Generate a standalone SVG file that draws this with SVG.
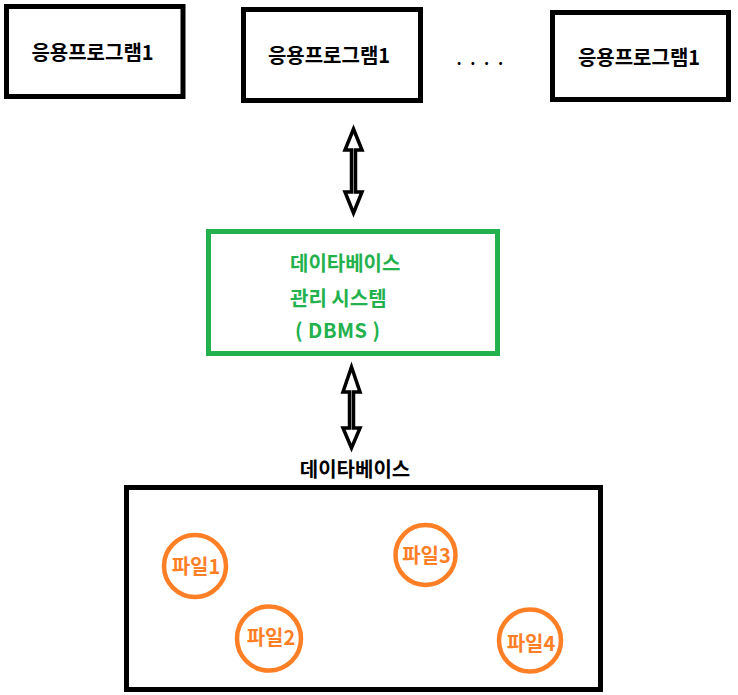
<svg xmlns="http://www.w3.org/2000/svg" width="738" height="695" viewBox="0 0 738 695">
<style>
.box{fill:#fff;stroke:#000;stroke-width:5}
.t{font-family:"Noto Sans CJK KR","Noto Sans",sans-serif;font-weight:bold;font-size:20px}
.bk{fill:#000}
.gr{fill:#22b14c}
.or{fill:#ff7f27}
.file{fill:#fff;stroke:#ff7f27;stroke-width:4.5}
.arrow{fill:#fff;stroke:#000;stroke-width:3.5;stroke-linejoin:miter}
</style>
<rect width="738" height="695" fill="#fff"/>
<g id="app1">
<rect class="box" x="6.5" y="6.5" width="176.5" height="90"/>
<text class="t bk" x="92.5" y="60" text-anchor="middle">응용프로그램1</text>
</g>
<g id="app2">
<rect class="box" x="243.5" y="9.5" width="177" height="91"/>
<text class="t bk" x="329" y="63" text-anchor="middle">응용프로그램1</text>
</g>
<g id="dots">
<text class="t bk" x="481" y="65" text-anchor="middle" style="font-size:16px;letter-spacing:2.5px">. . . .</text>
</g>
<g id="app3">
<rect class="box" x="552.5" y="12.5" width="176" height="87"/>
<text class="t bk" x="639" y="65" text-anchor="middle">응용프로그램1</text>
</g>
<g id="dbms">
<rect x="208.5" y="231.5" width="289" height="122" fill="#fff" stroke="#22b14c" stroke-width="5"/>
<text class="t gr" x="290" y="271">데이타베이스</text>
<text class="t gr" x="290" y="306">관리 시스템</text>
<text class="t gr" x="295" y="338" style="letter-spacing:0.5px">( DBMS )</text>
</g>
<g id="db">
<text class="t bk" x="355" y="477" text-anchor="middle">데이타베이스</text>
<rect class="box" x="126.5" y="487.5" width="474" height="202"/>
<g id="file1">
<circle class="file" cx="195" cy="566" r="31"/>
<text class="t or" x="196" y="574" text-anchor="middle">파일1</text>
</g>
<g id="file2">
<circle class="file" cx="269" cy="638.5" r="32"/>
<text class="t or" x="271" y="645" text-anchor="middle">파일2</text>
</g>
<g id="file3">
<circle class="file" cx="425.5" cy="555" r="30"/>
<text class="t or" x="426.5" y="563" text-anchor="middle">파일3</text>
</g>
<g id="file4">
<circle class="file" cx="530" cy="640.5" r="31"/>
<text class="t or" x="531" y="651" text-anchor="middle">파일4</text>
</g>
</g>
<g id="connectors">
<polygon class="arrow" points="353.5,129 362,150 355.5,150 355.5,192 362,192 353.5,213 345,192 351.5,192 351.5,150 345,150"/>
<polygon class="arrow" points="351.5,367 360,392 353.5,392 353.5,428 360,428 351.5,448 343,428 349.5,428 349.5,392 343,392"/>
</g>
</svg>
